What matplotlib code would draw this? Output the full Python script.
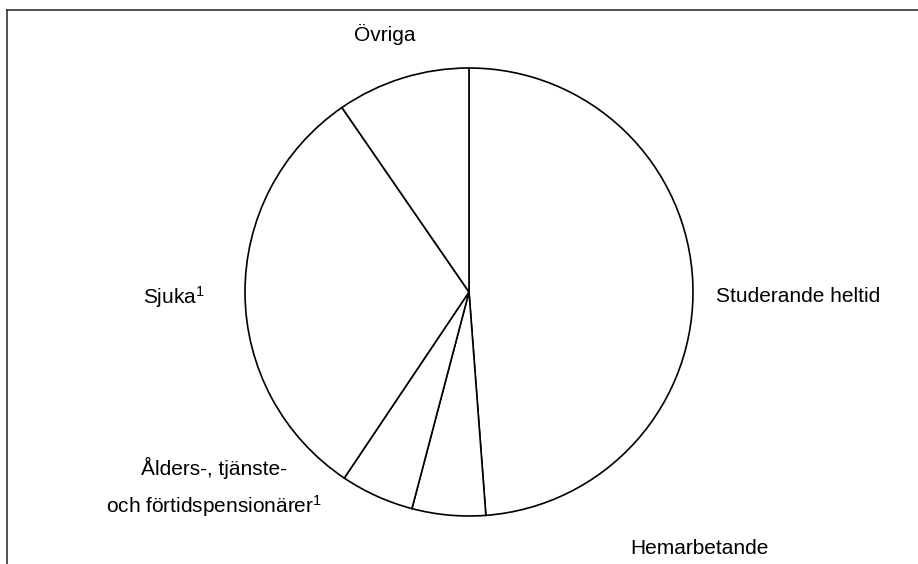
import matplotlib
matplotlib.use("Agg")
import matplotlib.pyplot as plt
from matplotlib.lines import Line2D

plt.rcParams['font.family'] = ['Liberation Sans', 'DejaVu Sans']
plt.rcParams['mathtext.fontset'] = 'custom'
plt.rcParams['mathtext.rm'] = 'Liberation Sans'
plt.rcParams['mathtext.it'] = 'Liberation Sans'

# Andel (%) per grupp, läst ur bilden
categories = ["Studerande heltid", "Hemarbetande",
              "Ålders-, tjänste-\noch förtidspensionärer$^1$",
              "Sjuka$^1$", "Övriga"]
values = [48.8, 5.3, 5.3, 31.0, 9.6]

fig = plt.figure(figsize=(9.18, 5.64), dpi=100)
ax = fig.add_axes([0, 0, 1, 1])

H = 564
ax.pie(values, center=(469, H - 292), radius=224, startangle=90,
       counterclock=False,
       wedgeprops=dict(facecolor="white", edgecolor="black", linewidth=1.2))

ax.set_xlim(0, 918)
ax.set_ylim(0, H)
ax.set_aspect("equal")
ax.axis("off")

fs = 15
ax.text(385, H - 34, categories[4], fontsize=fs, ha="center", va="center")
ax.text(716, H - 297, categories[0], fontsize=fs, ha="left", va="center")
ax.text(205, H - 297, categories[3], fontsize=fs, ha="right", va="center")
ax.text(214, H - 488, categories[2], fontsize=fs, ha="center", va="center",
        linespacing=1.7)
ax.text(630, H - 549, categories[1], fontsize=fs, ha="left", va="center")

# ram runt diagrammet (överkant och vänsterkant)
fig.add_artist(Line2D([7 / 918, 1], [1 - 10 / H, 1 - 10 / H], color="#333333",
                      linewidth=1.2, transform=fig.transFigure))
fig.add_artist(Line2D([7 / 918, 7 / 918], [0, 1 - 10 / H], color="#333333",
                      linewidth=1.2, transform=fig.transFigure))

plt.savefig("out.png", dpi=100)
